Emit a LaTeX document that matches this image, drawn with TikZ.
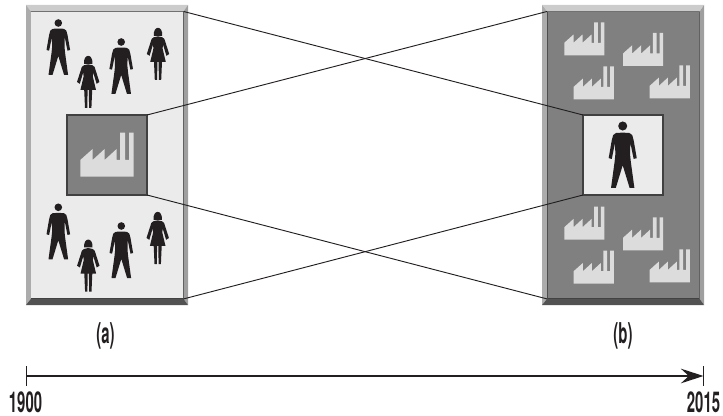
\documentclass[tikz,border=0pt]{standalone}
\usepackage{fontspec}
\setmainfont{TeX Gyre Heros}[FakeStretch=0.52]
\usetikzlibrary{arrows.meta}

\definecolor{panellight}{HTML}{EBEBEB}
\definecolor{paneldark}{HTML}{808080}
\definecolor{factorygrey}{HTML}{DCDCDC}
\definecolor{figureblack}{HTML}{231F20}
\definecolor{edgegrey}{HTML}{404040}

\tikzset{
  panel/.style={draw=edgegrey,line width=0.8pt,inner sep=0pt,outer sep=0pt,minimum width=#1},
  outerframe/.style={inner sep=0pt,outer sep=0pt,minimum width=121.5pt,minimum height=225pt},
  caption/.style={font=\bfseries\fontsize{21.5}{21.5}\selectfont,text=figureblack,inner sep=0pt},
  link/.style={draw=figureblack,line width=0.7pt},
  man/.pic={
    \fill[figureblack] (0,0) circle (3.8);
    \fill[figureblack] (0,5.6) -- (5.5,5.8) -- (8,7.6) -- (9.2,12) -- (11.8,27) -- (9.2,27.7)
      -- (6.4,14) -- (6.2,24) -- (6.8,30) -- (9.8,52) -- (5.8,52) -- (0,33) -- (-5.8,52) -- (-9.8,52)
      -- (-6.8,30) -- (-6.2,24) -- (-6.4,14) -- (-9.2,27.7) -- (-11.8,27) -- (-9.2,12) -- (-8,7.6)
      -- (-5.5,5.8) -- cycle;
  },
  woman/.pic={
    \fill[figureblack] (-4.2,4.8) .. controls (-5,-5.8) and (5,-5.8) .. (4.2,4.8) -- cycle;
    \fill[figureblack] (0,5.3) -- (4.4,6.3) -- (6.4,8) -- (11.2,23) -- (8.4,24.8) -- (5,13.5)
      -- (4.6,17.5) -- (7.8,31) -- (4,31) -- (3.2,49) -- (0.9,49) -- (0.6,31) -- (-0.6,31)
      -- (-0.9,49) -- (-3.2,49) -- (-4,31) -- (-7.8,31) -- (-4.6,17.5) -- (-5,13.5)
      -- (-8.4,24.8) -- (-11.2,23) -- (-6.4,8) -- (-4.4,6.3) -- cycle;
  },
  factory/.pic={
    \fill[factorygrey] (0,0) -- (53.4,0) -- (53.4,-44) -- (48.7,-44) -- (48.7,-16.7)
      -- (44.7,-16.7) -- (44.7,-44) -- (39.7,-44) -- (39.7,-16.7) -- (36.3,-16.7)
      -- (36.3,-27.7) -- (24.3,-16.7) -- (24.3,-27.7) -- (12.3,-16.7) -- (12.3,-27.7)
      -- (0,-16.7) -- cycle;
  }
}

\newcommand{\bevel}[2]{
  \fill[gray!40] (#1.north west) -- (#1.north east) -- (#2.north east) -- (#2.north west) -- cycle;
  \fill[gray!65] (#1.north west) -- (#1.south west) -- (#2.south west) -- (#2.north west) -- cycle;
  \fill[gray!75] (#1.north east) -- (#1.south east) -- (#2.south east) -- (#2.north east) -- cycle;
  \fill[black!68] (#1.south west) -- (#1.south east) -- (#2.south east) -- (#2.south west) -- cycle;
}

\begin{document}
\begin{tikzpicture}[x=0.75pt,y=-0.75pt]
  \useasboundingbox (0,0) rectangle (723,416);

  % frames
  \node[outerframe] (outera) at (107,155) {};
  \node[outerframe] (outerb) at (623,155) {};
  \node[panel=114.5pt,minimum height=215.6pt,fill=panellight] (framea) at (107.2,155.2) {};
  \node[panel=114.5pt,minimum height=215.6pt,fill=paneldark] (frameb) at (623.4,155.2) {};
  \bevel{outera}{framea}
  \bevel{outerb}{frameb}
  \node[panel=60pt,minimum height=60pt,fill=paneldark] (boxa) at (107,155) {};
  \node[panel=60pt,minimum height=60pt,fill=panellight] (boxb) at (623,155) {};

  % people in (a)
  \pic at (58.3,23) {man};
  \pic at (121.2,42) {man};
  \pic at (88.2,59) {woman};
  \pic at (158,31) {woman};
  \pic at (58.3,207.3) {man};
  \pic at (121.3,226) {man};
  \pic at (88.3,242.7) {woman};
  \pic at (157.7,215) {woman};
  \pic at (80.3,176.7) {factory};

  % factories in (b)
  \pic[scale=0.75] at (564.3,55.3) {factory};
  \pic[scale=0.75] at (623,66) {factory};
  \pic[scale=0.75] at (573.7,99.3) {factory};
  \pic[scale=0.75] at (649.7,98.3) {factory};
  \pic[scale=0.75] at (564.3,239.7) {factory};
  \pic[scale=0.75] at (623,250.3) {factory};
  \pic[scale=0.75] at (573.7,283.7) {factory};
  \pic[scale=0.75] at (649.7,282.3) {factory};
  \pic[scale=1.19] at (622.7,126) {man};

  % crossing lines
  \draw[link] (framea.north east) -- (boxb.north west);
  \draw[link] (framea.south east) -- (boxb.south west);
  \draw[link] (frameb.north west) -- (boxa.north east);
  \draw[link] (frameb.south west) -- (boxa.south east);

  \node[caption] (capa) at (105.5,336) {(a)};
  \node[caption] (capb) at (623,336) {(b)};

  % time axis
  \coordinate (start) at (26.5,376);
  \coordinate (end) at (703.5,376);
  \coordinate (starttop) at (26.5,366);
  \coordinate (startbot) at (26.5,386);
  \coordinate (endtop) at (703.5,366);
  \coordinate (endbot) at (703.5,386);
  \draw[line width=1.1pt,figureblack,-{Stealth[length=17pt,width=11pt,inset=6pt]}] (start) -- (end);
  \draw[line width=0.9pt,figureblack] (starttop) -- (startbot);
  \draw[line width=0.9pt,figureblack] (endtop) -- (endbot);
  \node[caption] (yeara) at (25.5,402.5) {1900};
  \node[caption] (yearb) at (703.5,402.5) {2015};
\end{tikzpicture}
\end{document}
